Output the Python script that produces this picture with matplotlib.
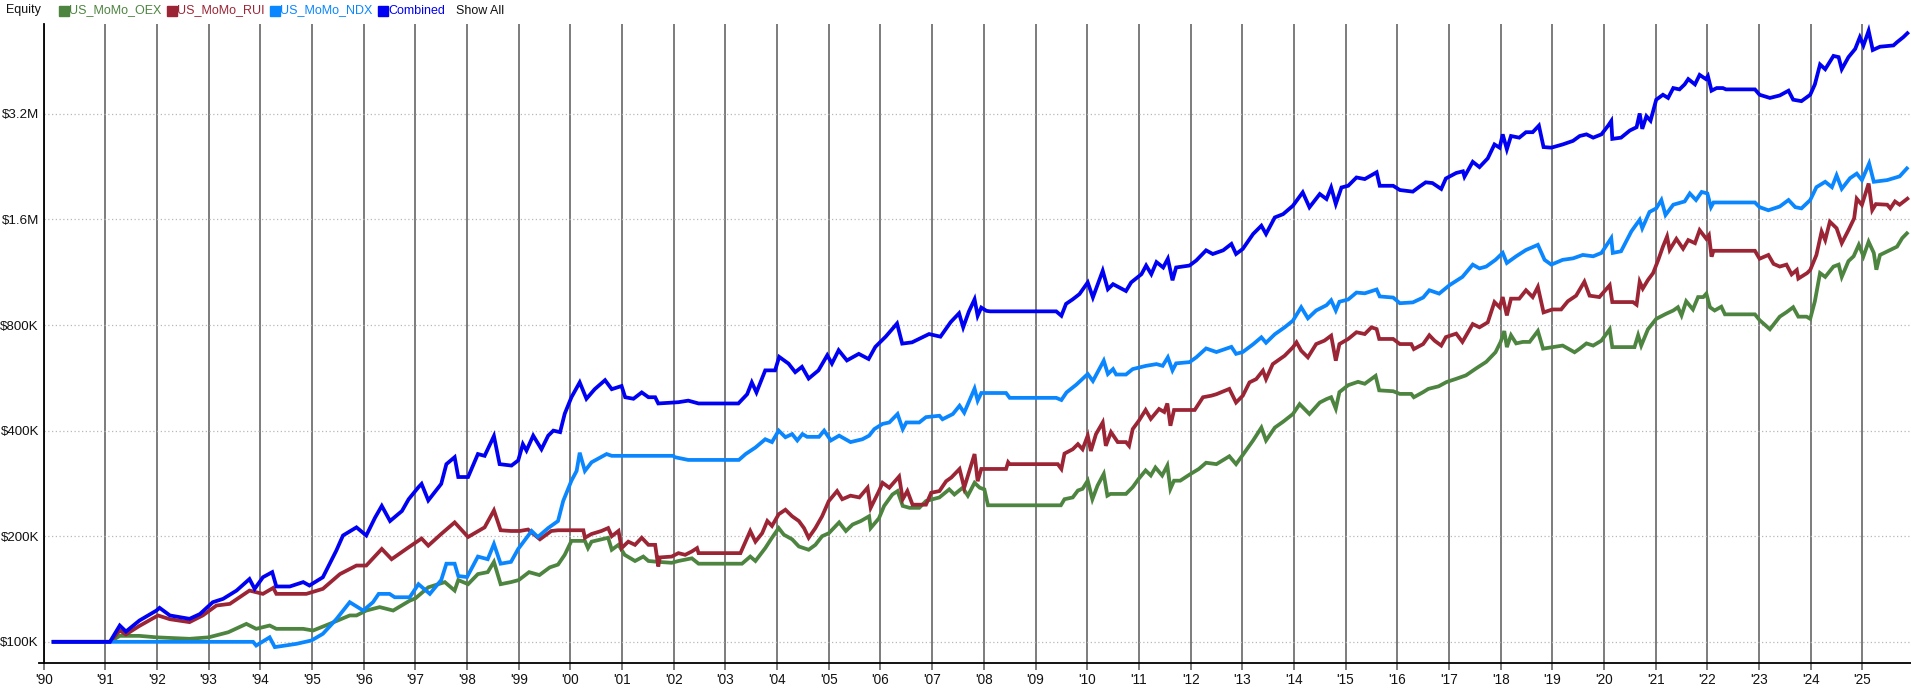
import matplotlib
matplotlib.use("Agg")
import matplotlib.pyplot as plt
from matplotlib.lines import Line2D
from matplotlib.patches import Rectangle

plt.rcParams["font.family"] = ["Liberation Sans", "DejaVu Sans"]

W, H = 1911, 691

# equity curves, values in $K, x in fractional years
oex_year = [1990.0, 1991.09, 1991.28, 1991.66, 1991.99, 1992.63, 1993.0, 1993.38, 1993.73, 1993.92,
            1994.18, 1994.31, 1994.83, 1995.02, 1995.34, 1995.73, 1995.86, 1996.05, 1996.31, 1996.57,
            1996.89, 1997.0, 1997.25, 1997.57, 1997.76, 1997.83, 1998.02, 1998.21, 1998.4, 1998.52,
            1998.65, 1998.85, 1999.0, 1999.2, 1999.4, 1999.6, 1999.76, 1999.89, 2000.02, 2000.28,
            2000.34, 2000.41, 2000.6, 2000.73, 2000.8, 2000.93, 2001.05, 2001.25, 2001.41, 2001.51,
            2001.7, 2001.96, 2002.09, 2002.35, 2002.48, 2003.32, 2003.48, 2003.58, 2003.77, 2003.9,
            2004.03, 2004.13, 2004.29, 2004.42, 2004.61, 2004.74, 2004.87, 2005.0, 2005.2, 2005.33,
            2005.46, 2005.62, 2005.78, 2005.81, 2005.97, 2006.07, 2006.23, 2006.33, 2006.43, 2006.56,
            2006.75, 2006.88, 2007.14, 2007.33, 2007.43, 2007.59, 2007.69, 2007.82, 2007.92, 2008.01,
            2008.08, 2009.49, 2009.56, 2009.72, 2009.82, 2009.91, 2010.01, 2010.1, 2010.2, 2010.32,
            2010.39, 2010.45, 2010.75, 2010.88, 2011.0, 2011.13, 2011.23, 2011.32, 2011.45, 2011.55,
            2011.61, 2011.68, 2011.8, 2012.0, 2012.16, 2012.3, 2012.5, 2012.75, 2012.88, 2013.01,
            2013.21, 2013.37, 2013.46, 2013.63, 2013.79, 2013.98, 2014.11, 2014.3, 2014.5, 2014.63,
            2014.72, 2014.81, 2014.88, 2015.05, 2015.24, 2015.37, 2015.58, 2015.65, 2015.92, 2016.05,
            2016.27, 2016.32, 2016.5, 2016.6, 2016.8, 2016.95, 2017.14, 2017.33, 2017.52, 2017.72,
            2017.9, 2018.0, 2018.07, 2018.12, 2018.2, 2018.3, 2018.43, 2018.56, 2018.72, 2018.82,
            2019.2, 2019.43, 2019.53, 2019.66, 2019.79, 2019.95, 2020.11, 2020.16, 2020.59, 2020.66,
            2020.72, 2020.85, 2021.01, 2021.2, 2021.34, 2021.43, 2021.5, 2021.59, 2021.72, 2021.82,
            2021.92, 2021.98, 2022.05, 2022.14, 2022.27, 2022.34, 2022.92, 2023.01, 2023.21, 2023.4,
            2023.53, 2023.66, 2023.76, 2023.92, 2023.99, 2024.08, 2024.18, 2024.28, 2024.44, 2024.54,
            2024.6, 2024.73, 2024.83, 2024.93, 2025.02, 2025.12, 2025.22, 2025.27, 2025.34, 2025.54,
            2025.67, 2025.77, 2025.86]
oex_val = [100, 100, 104, 104, 103, 102, 103, 106.5, 112.5, 108.9,
           111.3, 108.9, 108.9, 107.7, 112.5, 118.9, 118.9, 122.8, 125.6, 122.8,
           131, 133, 143, 148, 140, 150, 146, 156, 158, 169,
           146, 148, 150, 158, 155, 163, 166, 177, 194, 194,
           185, 193, 196, 198, 183, 189, 177, 170, 175, 170,
           169, 168, 170, 173, 167, 167, 175, 170, 185, 198,
           211, 202, 196, 187, 183, 189, 200, 204, 219, 207,
           216, 221, 228, 211, 225, 244, 263, 269, 244, 241,
           241, 252, 258, 272, 263, 275, 261, 284, 275, 272,
           245, 245, 255, 258, 270, 273, 288, 255, 279, 301,
           261, 264, 264, 276, 292, 308, 298, 314, 298, 318,
           273, 288, 288, 301, 311, 324, 321, 338, 321, 341,
           375, 408, 375, 408, 424, 446, 476, 446, 481, 492,
           498, 462, 515, 539, 551, 544, 573, 521, 518, 509,
           509, 498, 515, 526, 535, 550, 562, 575, 601, 628,
           669, 716, 769, 692, 748, 709, 716, 716, 769, 685,
           699, 669, 685, 709, 699, 722, 778, 692, 692, 748,
           699, 778, 833, 861, 880, 899, 852, 935, 886, 961,
           961, 983, 899, 880, 902, 858, 858, 826, 778, 845,
           870, 899, 845, 845, 833, 935, 1125, 1097, 1174, 1189,
           1097, 1217, 1256, 1354, 1256, 1382, 1284, 1150, 1267, 1309,
           1338, 1415, 1460]

rui_year = [1990.0, 1991.09, 1991.28, 1991.4, 1991.66, 1992.02, 1992.25, 1992.63, 1992.89, 1993.15,
            1993.41, 1993.79, 1994.05, 1994.25, 1994.31, 1994.89, 1995.21, 1995.54, 1995.86, 1996.05,
            1996.35, 1996.54, 1996.87, 1997.12, 1997.25, 1997.5, 1997.76, 1998.02, 1998.34, 1998.52,
            1998.65, 1998.85, 1999.02, 1999.18, 1999.41, 1999.63, 1999.76, 2000.25, 2000.28, 2000.41,
            2000.6, 2000.73, 2000.8, 2000.93, 2000.99, 2001.12, 2001.25, 2001.38, 2001.51, 2001.64,
            2001.7, 2001.73, 2001.96, 2002.09, 2002.22, 2002.35, 2002.45, 2002.48, 2003.29, 2003.48,
            2003.58, 2003.71, 2003.81, 2003.9, 2004.03, 2004.16, 2004.29, 2004.42, 2004.52, 2004.61,
            2004.74, 2004.87, 2005.0, 2005.16, 2005.26, 2005.42, 2005.59, 2005.75, 2005.81, 2005.97,
            2006.04, 2006.17, 2006.36, 2006.43, 2006.52, 2006.62, 2006.88, 2006.98, 2007.14, 2007.27,
            2007.37, 2007.53, 2007.62, 2007.72, 2007.82, 2007.88, 2007.95, 2008.43, 2008.47, 2008.5,
            2009.43, 2009.5, 2009.56, 2009.72, 2009.82, 2009.91, 2010.01, 2010.07, 2010.17, 2010.3,
            2010.36, 2010.46, 2010.59, 2010.75, 2010.81, 2010.88, 2011.0, 2011.13, 2011.23, 2011.39,
            2011.49, 2011.55, 2011.61, 2011.68, 2012.08, 2012.24, 2012.4, 2012.5, 2012.75, 2012.88,
            2013.01, 2013.14, 2013.27, 2013.4, 2013.46, 2013.59, 2013.82, 2013.98, 2014.05, 2014.14,
            2014.27, 2014.43, 2014.59, 2014.72, 2014.81, 2014.88, 2015.05, 2015.21, 2015.37, 2015.5,
            2015.6, 2015.65, 2015.92, 2016.05, 2016.27, 2016.32, 2016.5, 2016.62, 2016.72, 2016.85,
            2016.94, 2017.14, 2017.26, 2017.46, 2017.59, 2017.75, 2017.88, 2017.98, 2018.04, 2018.12,
            2018.2, 2018.36, 2018.49, 2018.62, 2018.72, 2018.83, 2019.0, 2019.17, 2019.3, 2019.46,
            2019.62, 2019.72, 2019.91, 2020.11, 2020.16, 2020.56, 2020.63, 2020.69, 2020.75, 2020.85,
            2020.95, 2021.05, 2021.14, 2021.22, 2021.27, 2021.4, 2021.53, 2021.63, 2021.76, 2021.85,
            2021.98, 2022.03, 2022.08, 2022.12, 2022.92, 2023.01, 2023.18, 2023.28, 2023.4, 2023.53,
            2023.63, 2023.73, 2023.76, 2023.93, 2023.99, 2024.11, 2024.21, 2024.28, 2024.37, 2024.5,
            2024.6, 2024.73, 2024.84, 2024.89, 2024.99, 2025.12, 2025.19, 2025.26, 2025.48, 2025.54,
            2025.63, 2025.72, 2025.87]
rui_val = [100, 100, 107.7, 105, 111, 118.9, 116, 113.8, 119, 126.9,
           128.3, 140, 137, 142.5, 137, 137, 141.6, 156, 165, 165,
           184, 172, 186, 197, 188, 203, 219, 199, 212, 237,
           208, 207, 207, 209, 196, 207, 208, 208, 198, 203,
           207, 211, 200, 207, 185, 193, 189, 198, 189, 189,
           164, 174, 175, 179, 177, 181, 185, 179, 179, 207,
           193, 204, 221, 214, 231, 238, 228, 221, 211, 198,
           211, 228, 252, 269, 255, 261, 258, 275, 241, 269,
           284, 275, 296, 255, 269, 246, 246, 266, 269, 287,
           294, 311, 275, 307, 343, 287, 311, 311, 325, 321,
           321, 311, 344, 354, 366, 354, 387, 350, 391, 422,
           362, 396, 371, 371, 362, 404, 427, 458, 432, 461,
           452, 478, 413, 458, 458, 498, 503, 508, 526, 481,
           503, 549, 561, 593, 561, 619, 654, 691, 714, 676,
           647, 706, 722, 746, 633, 706, 730, 763, 754, 788,
           779, 730, 730, 706, 706, 683, 706, 748, 722, 699,
           739, 756, 716, 805, 788, 814, 930, 899, 961, 852,
           951, 951, 1005, 961, 1027, 869, 886, 886, 935, 970,
           1063, 970, 961, 1039, 930, 930, 914, 1063, 1016, 1075,
           1125, 1227, 1338, 1430, 1310, 1408, 1320, 1397, 1369, 1491,
           1408, 1442, 1253, 1302, 1302, 1236, 1267, 1195, 1174, 1189,
           1115, 1148, 1085, 1125, 1148, 1267, 1477, 1397, 1576, 1510,
           1369, 1491, 1611, 1833, 1760, 2025, 1701, 1769, 1762, 1720,
           1800, 1762, 1833]

ndx_year = [1990.0, 1993.86, 1993.92, 1994.18, 1994.28, 1994.7, 1994.99, 1995.21, 1995.47, 1995.73,
            1995.99, 1996.18, 1996.29, 1996.5, 1996.6, 1996.89, 1997.06, 1997.28, 1997.5, 1997.6,
            1997.76, 1997.83, 1998.0, 1998.21, 1998.4, 1998.52, 1998.65, 1998.85, 1998.99, 1999.25,
            1999.37, 1999.57, 1999.76, 1999.86, 2000.02, 2000.12, 2000.18, 2000.28, 2000.41, 2000.7,
            2000.8, 2001.99, 2002.02, 2002.28, 2003.26, 2003.39, 2003.58, 2003.77, 2003.9, 2004.03,
            2004.16, 2004.29, 2004.39, 2004.49, 2004.58, 2004.81, 2004.91, 2005.04, 2005.2, 2005.42,
            2005.65, 2005.78, 2005.88, 2006.04, 2006.17, 2006.33, 2006.43, 2006.5, 2006.75, 2006.88,
            2007.14, 2007.2, 2007.4, 2007.53, 2007.62, 2007.72, 2007.82, 2007.88, 2007.95, 2008.43,
            2008.5, 2009.4, 2009.5, 2009.6, 2009.79, 2010.01, 2010.11, 2010.32, 2010.4, 2010.5,
            2010.56, 2010.75, 2010.88, 2011.14, 2011.34, 2011.46, 2011.56, 2011.65, 2011.72, 2011.98,
            2012.11, 2012.3, 2012.5, 2012.79, 2012.88, 2013.01, 2013.21, 2013.37, 2013.46, 2013.63,
            2013.82, 2013.98, 2014.14, 2014.27, 2014.43, 2014.63, 2014.72, 2014.81, 2014.88, 2015.05,
            2015.21, 2015.37, 2015.6, 2015.66, 2015.92, 2016.05, 2016.3, 2016.5, 2016.62, 2016.81,
            2017.01, 2017.26, 2017.46, 2017.59, 2017.72, 2017.9, 2018.04, 2018.12, 2018.3, 2018.49,
            2018.72, 2018.85, 2018.98, 2019.2, 2019.4, 2019.59, 2019.79, 2019.95, 2020.14, 2020.17,
            2020.33, 2020.53, 2020.69, 2020.74, 2020.88, 2021.01, 2021.11, 2021.19, 2021.34, 2021.56,
            2021.66, 2021.78, 2021.89, 2022.0, 2022.07, 2022.12, 2022.92, 2023.01, 2023.18, 2023.4,
            2023.57, 2023.7, 2023.82, 2023.99, 2024.11, 2024.28, 2024.41, 2024.5, 2024.6, 2024.76,
            2024.89, 2024.99, 2025.13, 2025.22, 2025.48, 2025.6, 2025.72, 2025.86]
ndx_val = [100, 100, 97.6, 103, 96.6, 98.7, 100.9, 105.4, 116, 129.7,
           122.8, 129.7, 137, 137, 134, 134, 146, 137, 150, 167,
           167, 154, 153, 175, 172, 190, 167, 169, 184, 207,
           199, 211, 221, 252, 288, 307, 346, 307, 325, 343,
           339, 339, 336, 330, 330, 343, 358, 378, 371, 400,
           383, 391, 375, 391, 384, 384, 400, 375, 387, 371,
           378, 387, 404, 418, 422, 446, 404, 422, 422, 437,
           441, 431, 446, 471, 450, 487, 527, 487, 512, 512,
           496, 496, 489, 514, 541, 580, 554, 633, 580, 599,
           578, 578, 599, 612, 619, 612, 647, 594, 622, 627,
           647, 686, 670, 693, 662, 670, 705, 738, 712, 753,
           788, 823, 899, 836, 880, 911, 941, 880, 932, 946,
           990, 985, 1010, 965, 958, 923, 928, 958, 1005, 983,
           1039, 1097, 1189, 1160, 1174, 1227, 1284, 1202, 1256, 1309,
           1354, 1227, 1189, 1227, 1239, 1267, 1256, 1284, 1415, 1284,
           1298, 1480, 1596, 1510, 1680, 1720, 1817, 1647, 1762, 1800,
           1897, 1817, 1916, 1897, 1734, 1788, 1788, 1734, 1699, 1741,
           1817, 1734, 1720, 1817, 1977, 2048, 1977, 2137, 1956, 2097,
           2161, 2071, 2310, 2048, 2071, 2097, 2122, 2236]

comb_year = [1990.0, 1991.09, 1991.28, 1991.4, 1991.66, 1991.99, 1992.05, 1992.25, 1992.63, 1992.83,
             1993.08, 1993.28, 1993.54, 1993.79, 1993.89, 1994.05, 1994.23, 1994.31, 1994.57, 1994.83,
             1994.95, 1995.21, 1995.47, 1995.6, 1995.86, 1996.05, 1996.22, 1996.35, 1996.51, 1996.74,
             1996.87, 1997.06, 1997.12, 1997.25, 1997.5, 1997.6, 1997.76, 1997.83, 1998.02, 1998.21,
             1998.34, 1998.52, 1998.63, 1998.86, 1998.99, 1999.08, 1999.15, 1999.28, 1999.44, 1999.57,
             1999.67, 1999.8, 1999.89, 2000.02, 2000.18, 2000.31, 2000.47, 2000.67, 2000.8, 2000.99,
             2001.06, 2001.22, 2001.38, 2001.51, 2001.64, 2001.7, 2002.09, 2002.28, 2002.48, 2003.25,
             2003.42, 2003.51, 2003.6, 2003.77, 2003.96, 2004.04, 2004.22, 2004.35, 2004.48, 2004.61,
             2004.8, 2004.97, 2005.06, 2005.19, 2005.35, 2005.58, 2005.77, 2005.9, 2006.1, 2006.32,
             2006.42, 2006.61, 2006.94, 2007.16, 2007.36, 2007.52, 2007.6, 2007.71, 2007.82, 2007.88,
             2007.95, 2008.05, 2008.12, 2009.4, 2009.5, 2009.59, 2009.72, 2009.85, 2010.01, 2010.11,
             2010.3, 2010.4, 2010.5, 2010.75, 2010.85, 2011.05, 2011.14, 2011.24, 2011.34, 2011.47,
             2011.56, 2011.65, 2011.72, 2011.98, 2012.11, 2012.3, 2012.43, 2012.63, 2012.79, 2012.88,
             2013.01, 2013.21, 2013.37, 2013.46, 2013.63, 2013.79, 2013.98, 2014.17, 2014.3, 2014.5,
             2014.63, 2014.72, 2014.81, 2014.92, 2015.05, 2015.21, 2015.37, 2015.6, 2015.66, 2015.92,
             2016.05, 2016.3, 2016.43, 2016.55, 2016.68, 2016.85, 2016.94, 2017.14, 2017.27, 2017.3,
             2017.46, 2017.59, 2017.75, 2017.88, 2017.98, 2018.04, 2018.12, 2018.2, 2018.36, 2018.49,
             2018.62, 2018.74, 2018.83, 2018.98, 2019.2, 2019.4, 2019.53, 2019.66, 2019.79, 2019.95,
             2020.08, 2020.14, 2020.16, 2020.33, 2020.5, 2020.63, 2020.69, 2020.74, 2020.82, 2020.9,
             2021.01, 2021.14, 2021.24, 2021.34, 2021.46, 2021.56, 2021.63, 2021.76, 2021.85, 2021.97,
             2022.01, 2022.08, 2022.18, 2022.3, 2022.36, 2022.92, 2023.01, 2023.21, 2023.4, 2023.57,
             2023.66, 2023.82, 2023.99, 2024.08, 2024.18, 2024.28, 2024.44, 2024.54, 2024.6, 2024.73,
             2024.86, 2024.95, 2025.02, 2025.12, 2025.2, 2025.34, 2025.6, 2025.67, 2025.79, 2025.87]
comb_val = [100, 100, 111.3, 107, 115, 122.8, 125, 118.9, 116.3, 120,
            129.7, 132.6, 140, 151, 141.6, 152.8, 158, 143.8, 143.8, 148,
            144.7, 152.8, 182, 201, 212, 201, 226, 244, 221, 236,
            255, 276, 282, 253, 282, 321, 336, 295, 295, 343,
            339, 386, 321, 318, 329, 366, 351, 387, 354, 387,
            400, 396, 447, 498, 549, 493, 525, 557, 525, 536,
            498, 493, 514, 498, 498, 478, 482, 487, 478, 478,
            508, 549, 514, 594, 594, 649, 621, 587, 608, 563,
            594, 656, 621, 678, 634, 662, 640, 693, 741, 808,
            708, 714, 754, 741, 816, 864, 788, 874, 947, 850,
            897, 878, 875, 875, 850, 919, 947, 980, 1058, 959,
            1142, 1012, 1046, 1000, 1058, 1117, 1182, 1117, 1209, 1167,
            1236, 1073, 1167, 1182, 1222, 1306, 1275, 1306, 1362, 1275,
            1318, 1454, 1535, 1454, 1621, 1656, 1750, 1911, 1732, 1890,
            1829, 1973, 1770, 1973, 1995, 2107, 2085, 2180, 1995, 1995,
            1940, 1920, 1984, 2041, 2031, 1954, 2093, 2170, 2194, 2118,
            2335, 2255, 2388, 2617, 2562, 2796, 2535, 2766, 2736, 2836,
            2836, 2961, 2572, 2562, 2617, 2679, 2766, 2796, 2736, 2796,
            2961, 3052, 2714, 2736, 2868, 2930, 3207, 2899, 3151, 3058,
            3510, 3626, 3551, 3789, 3756, 3881, 4019, 3881, 4131, 4019,
            4100, 3724, 3789, 3789, 3756, 3756, 3626, 3551, 3609, 3724,
            3510, 3477, 3626, 3881, 4423, 4288, 4679, 4642, 4288, 4642,
            4898, 5290, 5012, 5518, 4863, 4970, 5012, 5120, 5290, 5430]

series_names  = ["US_MoMo_OEX", "US_MoMo_RUI", "US_MoMo_NDX", "Combined"]
series_colors = ["#4d8440", "#9b2535", "#0a86ff", "#0000f2"]
series_data   = [(oex_year, oex_val), (rui_year, rui_val),
                 (ndx_year, ndx_val), (comb_year, comb_val)]

y_ticks  = [100, 200, 400, 800, 1600, 3200]
y_labels = ["$100K", "$200K", "$400K", "$800K", "$1.6M", "$3.2M"]
x_years  = list(range(1990, 2026))
x_labels = ["'%02d" % (y % 100) for y in x_years]

X_MIN, X_MAX = 1989.814, 2025.94
Y_MIN, Y_MAX = 87.2, 5769

fig = plt.figure(figsize=(W / 100, H / 100), dpi=100)
ax_left, ax_bottom, ax_top = 44, 662.7, 24
ax = fig.add_axes([ax_left / W, (H - ax_bottom) / H, (W - ax_left) / W, (ax_bottom - ax_top) / H])

for (xs, ys), c in zip(series_data, series_colors):
    ax.plot(xs, ys, color=c, lw=2.7, solid_joinstyle="miter", zorder=3)

ax.set_yscale("log", base=2)
ax.set_xlim(X_MIN, X_MAX)
ax.set_ylim(Y_MIN, Y_MAX)

ax.set_yticks(y_ticks)
ax.set_yticklabels(y_labels)
ax.yaxis.set_minor_locator(matplotlib.ticker.NullLocator())
ax.tick_params(axis="y", length=0, pad=3.6, labelsize=9.6, labelcolor="#111111")

# first label sits at the left edge of the axis
x_pos = [X_MIN] + x_years[1:]
ax.set_xticks(x_pos)
ax.set_xticklabels(x_labels)
ax.tick_params(axis="x", length=5, width=1.2, color="#666666", pad=2.5, labelsize=9.8,
               labelcolor="#111111")

ax.grid(axis="x", color="#666666", lw=1.2, zorder=1)
ax.grid(axis="y", color="#b8b8b8", lw=0.9, ls=(0, (1, 2)), zorder=1)

for s in ["top", "right"]:
    ax.spines[s].set_visible(False)
for s in ["left", "bottom"]:
    ax.spines[s].set_color("black")
    ax.spines[s].set_linewidth(1.3)

# little stub of the x axis line left of the y axis
fig.add_artist(Line2D([39 / W, ax_left / W], [(H - ax_bottom) / H] * 2,
                      color="black", lw=1.3, transform=fig.transFigure))

#  legend strip across the top
ty = 1 - 10.5 / H
fig.text(6 / W, ty, "Equity", fontsize=9, va="center", ha="left", color="#111111")
leg_x = [58.5, 166.5, 269.5, 377.5]
for lx, name, c in zip(leg_x, series_names, series_colors):
    fig.add_artist(Rectangle((lx / W, (H - 15.5) / H), 10 / W, 10 / H,
                             color=c, transform=fig.transFigure))
    fig.text((lx + 10.5) / W, ty, name, fontsize=9, va="center", ha="left", color=c)
fig.text(455.5 / W, ty, "Show All", fontsize=9, va="center", ha="left", color="#111111")

plt.savefig("out.png", dpi=100)
